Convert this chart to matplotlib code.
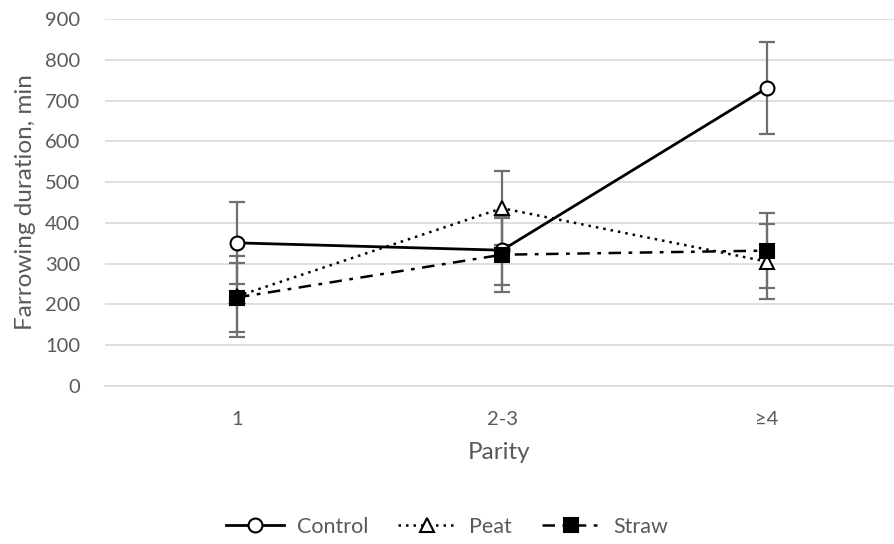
import matplotlib.pyplot as plt

# --- DATA ---
parity = ["1", "2-3", "≥4"]
control = [351, 333, 731]
control_err = [100, 85, 112]
peat = [220, 436, 305]
peat_err = [100, 91, 92]
straw = [217, 322, 332]
straw_err = [84, 91, 92]

TXT = "#595959"
ERR = "#6f6f6f"
plt.rcParams['font.family'] = ['Lato', 'DejaVu Sans']

fig = plt.figure(figsize=(8.94, 5.44), dpi=100)
ax = fig.add_axes([105 / 894, 1 - 386 / 544, 789 / 894, 367 / 544])
x = range(len(parity))

def draw(vals, errs, ls, marker, face, label, lw):
    ax.errorbar(x, vals, yerr=errs, fmt="none", ecolor=ERR, elinewidth=1.6,
                capsize=6, capthick=1.6, zorder=2)
    ax.plot(x, vals, linestyle=ls, color="black", linewidth=lw, marker=marker,
            markersize=10, markerfacecolor=face, markeredgecolor="black",
            markeredgewidth=1.5, label=label, zorder=3)

draw(control, control_err, "-", "o", "white", "Control", 2.0)
draw(peat, peat_err, (0, (1, 2)), "^", "white", "Peat", 1.8)
draw(straw, straw_err, (0, (5, 3, 1.5, 3)), "s", "black", "Straw", 1.8)

ax.set_xlim(-0.498, 2.479)
ax.set_ylim(0, 900)
ax.set_yticks(range(0, 901, 100))
ax.set_xticks(list(x))
ax.set_xticklabels(parity)
ax.yaxis.grid(True, color="#d9d9d9", linewidth=1.2, zorder=0)
ax.set_axisbelow(True)
for s in ["top", "right", "left"]:
    ax.spines[s].set_visible(False)
ax.spines["bottom"].set_color("#d9d9d9")
ax.spines["bottom"].set_linewidth(1.2)
ax.tick_params(length=0, labelsize=14.5, colors=TXT)
ax.tick_params(axis="y", pad=18)
ax.tick_params(axis="x", pad=18)

ax.set_xlabel("Parity", fontsize=17.5, color=TXT, labelpad=10)
ax.set_ylabel("Farrowing duration, min", fontsize=17.5, color=TXT, labelpad=6)

leg = fig.legend(loc="center", bbox_to_anchor=(0.5, 1 - 527 / 544), ncol=3,
                 frameon=False, fontsize=15.5, handlelength=2.7,
                 columnspacing=1.4, handletextpad=0.6)
for t in leg.get_texts():
    t.set_color(TXT)

fig.savefig("out.png", dpi=100)
